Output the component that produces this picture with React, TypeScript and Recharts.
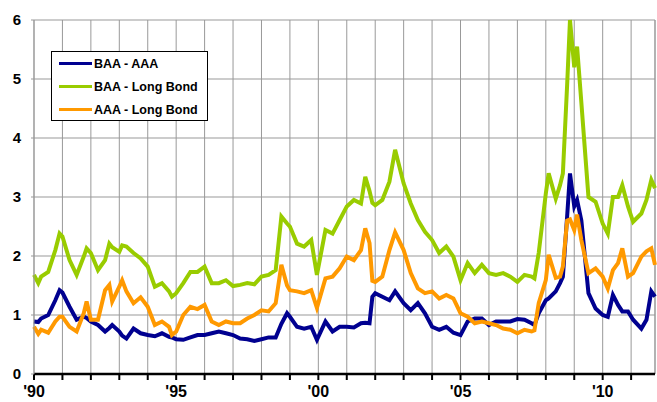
import { CartesianGrid, Line, LineChart, ReferenceLine, XAxis, YAxis } from "recharts";

// decimal years, shared by all three series
const dates = [
  1990.0, 1990.15, 1990.25, 1990.5, 1990.75, 1990.9, 1991.0, 1991.25, 1991.5, 1991.75,
  1991.85, 1992.0, 1992.25, 1992.5, 1992.65, 1992.75, 1993.0, 1993.1, 1993.25, 1993.5,
  1993.75, 1994.0, 1994.25, 1994.5, 1994.75, 1994.85, 1995.0, 1995.25, 1995.5, 1995.75,
  1996.0, 1996.25, 1996.5, 1996.75, 1997.0, 1997.25, 1997.5, 1997.75, 1998.0, 1998.25,
  1998.5, 1998.7, 1998.9, 1999.0, 1999.25, 1999.5, 1999.75, 1999.95, 2000.25, 2000.5,
  2000.75, 2001.0, 2001.25, 2001.5, 2001.65, 2001.8, 2001.9, 2002.0, 2002.25, 2002.5,
  2002.7, 2003.0, 2003.25, 2003.5, 2003.75, 2004.0, 2004.25, 2004.5, 2004.75, 2005.0,
  2005.25, 2005.5, 2005.75, 2006.0, 2006.25, 2006.5, 2006.75, 2007.0, 2007.25, 2007.5,
  2007.6, 2007.75, 2008.0, 2008.1, 2008.35, 2008.5, 2008.6, 2008.75, 2008.85, 2009.0,
  2009.1, 2009.25, 2009.5, 2009.75, 2010.0, 2010.18, 2010.36, 2010.54, 2010.69, 2010.89,
  2011.07, 2011.36, 2011.54, 2011.71, 2011.84,
];

const baaAaa = [
  0.89, 0.88, 0.94, 1.0, 1.25, 1.42, 1.38, 1.14, 0.92, 0.97,
  0.95, 0.89, 0.83, 0.72, 0.78, 0.83, 0.72, 0.65, 0.6, 0.77,
  0.69, 0.66, 0.64, 0.69, 0.63, 0.62, 0.59, 0.58, 0.62, 0.66,
  0.66, 0.69, 0.72, 0.69, 0.66, 0.6, 0.59, 0.56, 0.59, 0.62,
  0.62, 0.85, 1.03, 0.97, 0.8, 0.77, 0.8, 0.58, 0.89, 0.72,
  0.8, 0.8, 0.79, 0.86, 0.87, 0.86, 1.31, 1.37, 1.31, 1.25,
  1.4, 1.2, 1.08, 1.2, 1.03, 0.8, 0.75, 0.8, 0.7, 0.66,
  0.89, 0.94, 0.94, 0.83, 0.89, 0.89, 0.89, 0.93, 0.92, 0.86,
  0.83, 1.03, 1.25, 1.28, 1.4, 1.54, 1.65, 2.67, 3.4, 2.84,
  2.95, 2.6, 1.37, 1.11, 1.0, 0.97, 1.34, 1.17, 1.06, 1.06,
  0.92, 0.77, 0.92, 1.4, 1.31,
];

const baaLong = [
  1.68, 1.54, 1.65, 1.73, 2.1, 2.38, 2.33, 1.93, 1.68, 1.99,
  2.13, 2.05, 1.76, 1.93, 2.21, 2.15, 2.07, 2.18, 2.16, 2.05,
  1.96, 1.82, 1.48, 1.54, 1.4, 1.31, 1.37, 1.54, 1.73, 1.73,
  1.82, 1.54, 1.54, 1.59, 1.49, 1.51, 1.54, 1.52, 1.65, 1.68,
  1.76, 2.67, 2.55, 2.5, 2.21, 2.16, 2.27, 1.68, 2.44, 2.38,
  2.61, 2.84, 2.95, 2.89, 3.34, 3.1, 2.9, 2.86, 2.95, 3.26,
  3.8, 3.23, 2.89, 2.61, 2.41, 2.27, 2.05, 2.16, 1.99, 1.59,
  1.88, 1.71, 1.85, 1.71, 1.68, 1.71, 1.65, 1.56, 1.68, 1.65,
  1.62, 2.05, 3.06, 3.4, 2.97, 3.2, 3.4, 4.9, 6.0, 5.2,
  5.55, 4.6, 3.0, 2.92, 2.55, 2.38, 3.0, 3.0, 3.2, 2.84,
  2.58, 2.72, 2.95, 3.29, 3.15,
];

const aaaLong = [
  0.8, 0.68, 0.75, 0.7, 0.89, 0.97, 0.97, 0.8, 0.72, 1.03,
  1.23, 0.92, 0.92, 1.42, 1.51, 1.23, 1.48, 1.59, 1.4, 1.2,
  1.3, 1.14, 0.83, 0.89, 0.8, 0.66, 0.72, 1.0, 1.14, 1.1,
  1.17, 0.89, 0.83, 0.89, 0.86, 0.86, 0.94, 1.0, 1.08, 1.06,
  1.2, 1.85, 1.5, 1.42, 1.4, 1.37, 1.42, 1.12, 1.62, 1.65,
  1.79, 1.99, 1.93, 2.1, 2.47, 2.22, 1.58, 1.56, 1.65, 2.1,
  2.4, 2.1, 1.71, 1.45, 1.37, 1.4, 1.28, 1.34, 1.28, 1.03,
  0.97, 0.86, 0.89, 0.86, 0.83, 0.77, 0.75, 0.69, 0.75, 0.72,
  0.74, 1.2, 1.59, 2.02, 1.63, 1.65, 1.82, 2.6, 2.62, 2.44,
  2.7, 2.27, 1.71, 1.79, 1.65, 1.45, 1.76, 1.88, 2.13, 1.65,
  1.71, 1.99, 2.08, 2.13, 1.85,
];

const yearTicks = Array.from({ length: 22 }, (_, i) => 1990 + i);
const yTicks = [0, 1, 2, 3, 4, 5, 6];
const xMax = 2011.84;

const seriesInfo = [
  { key: "baaAaa", name: "BAA - AAA", color: "#000090" },
  { key: "baaLong", name: "BAA - Long Bond", color: "#99CC00" },
  { key: "aaaLong", name: "AAA - Long Bond", color: "#FF9900" },
];

const rows = dates.map((d, i) => ({
  date: d,
  baaAaa: baaAaa[i],
  baaLong: baaLong[i],
  aaaLong: aaaLong[i],
}));

const font = "'Liberation Sans', Arial, sans-serif";

function LegendBox() {
  return (
    <div
      style={{
        position: "absolute",
        left: 51,
        top: 51,
        width: 157,
        height: 70,
        border: "1px solid #000",
        background: "#fff",
        boxSizing: "border-box",
        padding: "-1px 0 0 7px",
        paddingTop: 0,
        paddingLeft: 7,
        fontFamily: font,
        fontWeight: "bold",
        fontSize: 12.5,
      }}
    >
      {seriesInfo.map((s) => (
        <div key={s.key} style={{ display: "flex", alignItems: "center", height: 23 }}>
          <span style={{ width: 33, height: 3, background: s.color, display: "inline-block" }} />
          <span style={{ marginLeft: 2 }}>{s.name}</span>
        </div>
      ))}
    </div>
  );
}

export default function App() {
  return (
    <div style={{ position: "relative", width: 657, height: 402, background: "#fff" }}>
      <style>{`body{margin:0}`}</style>
      <LineChart width={657} height={402} data={rows} margin={{ top: 20, right: 2, bottom: 0, left: 0 }}>
        <CartesianGrid stroke="#999" strokeWidth={1} />
        <XAxis
          dataKey="date"
          type="number"
          domain={[1990, xMax]}
          ticks={yearTicks}
          tickFormatter={(v) => (v % 5 === 0 ? "'" + String(v).slice(2) : "")}
          interval={0}
          height={28}
          axisLine={{ stroke: "#000", strokeWidth: 2.5 }}
          tickLine={{ stroke: "#000", strokeWidth: 2 }}
          tickSize={6}
          tickMargin={6}
          tick={{ fill: "#000", fontSize: 16, fontWeight: "bold", fontFamily: font }}
        />
        <YAxis
          domain={[0, 6]}
          ticks={yTicks}
          width={34}
          axisLine={{ stroke: "#999" }}
          tickLine={{ stroke: "#999" }}
          tickSize={3}
          tickMargin={10}
          tick={{ fill: "#000", fontSize: 15, fontWeight: "bold", fontFamily: font }}
        />
        <ReferenceLine x={xMax} stroke="#999" />
        {seriesInfo.map((s) => (
          <Line
            key={s.key}
            type="linear"
            dataKey={s.key}
            name={s.name}
            stroke={s.color}
            strokeWidth={4}
            dot={false}
            isAnimationActive={false}
          />
        ))}
      </LineChart>
      <LegendBox />
    </div>
  );
}
